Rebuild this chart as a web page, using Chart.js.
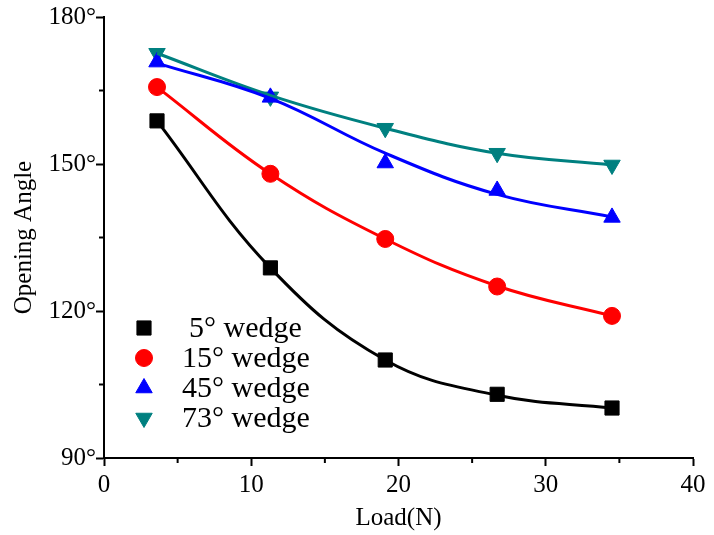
<!DOCTYPE html>
<html>
<head>
<meta charset="utf-8">
<script src="https://cdn.jsdelivr.net/npm/chart.js@4/dist/chart.umd.min.js"></script>
<style>
  html, body { margin: 0; padding: 0; background: #fff; }
  #wrap { width: 714px; height: 535px; }
</style>
</head>
<body>
<div id="wrap"><canvas id="c"></canvas></div>
<script>
// --- data ---
const loads = [3.6, 11.3, 19.1, 26.7, 34.5]

// measured points (markers)
const wedge5 = [158.8, 128.8, 110.0, 103.0, 100.2]
const wedge15 = [165.7, 148.0, 134.7, 125.0, 119.0]
const wedge45 = [170.8, 163.6, 150.2, 144.6, 139.1]
const wedge73 = [172.6, 163.7, 157.3, 152.2, 149.8]

// fitted curves at the same loads
const fit5 = [158.8, 128.8, 110.0, 102.8, 100.2]
const fit15 = [165.7, 148.0, 134.7, 125.1, 119.0]
const fit45 = [170.6, 163.4, 152.2, 143.8, 139.2]
const fit73 = [172.6, 164.0, 157.3, 152.2, 149.8]

const seriesLabels = ['5° wedge', '15° wedge', '45° wedge', '73° wedge']
const xTicks = [0, 10, 20, 30, 40]
const yTicks = [90, 120, 150, 180]
const xMinor = [5, 15, 25, 35]
const yMinor = [105, 135, 165]

const FONT = "'Liberation Serif', 'Times New Roman', serif"

function pts(ys) {
  return loads.map((x, i) => ({ x, y: ys[i] }))
}

function curve(ys, color) {
  return {
    label: '',
    isFit: true,
    data: pts(ys),
    borderColor: color,
    borderWidth: 3,
    pointRadius: 0,
    tension: 0.4,
    fill: false
  }
}

function markers(label, ys, color, style, radius, rotation) {
  return {
    label,
    data: pts(ys),
    showLine: false,
    borderColor: color,
    backgroundColor: color,
    pointStyle: style,
    pointRadius: radius,
    pointRotation: rotation,
    pointBorderWidth: 1
  }
}

// minor ticks + in-plot legend
const extras = {
  id: 'extras',
  afterDraw(chart) {
    const { ctx, chartArea, scales } = chart
    ctx.save()
    ctx.strokeStyle = '#000'
    ctx.lineWidth = 2
    xMinor.forEach((v) => {
      const px = scales.x.getPixelForValue(v)
      ctx.beginPath()
      ctx.moveTo(px, chartArea.bottom)
      ctx.lineTo(px, chartArea.bottom + 5)
      ctx.stroke()
    })
    yMinor.forEach((v) => {
      const py = scales.y.getPixelForValue(v)
      ctx.beginPath()
      ctx.moveTo(chartArea.left, py)
      ctx.lineTo(chartArea.left - 5, py)
      ctx.stroke()
    })

    // legend
    const mx = chartArea.left + 40
    const tx = chartArea.left + 78
    const y0 = chartArea.top + 311
    ctx.font = '30px ' + FONT
    ctx.textBaseline = 'middle'
    chart.data.datasets.filter((d) => !d.isFit).forEach((ds, i) => {
      const y = y0 + i * 30
      const opts = {
        pointStyle: ds.pointStyle,
        radius: ds.pointRadius,
        rotation: ds.pointRotation,
        borderWidth: 1
      }
      ctx.fillStyle = ds.backgroundColor
      ctx.strokeStyle = ds.borderColor
      ctx.lineWidth = 1
      Chart.helpers.drawPoint(ctx, opts, mx, y)
      ctx.fillStyle = '#000'
      ctx.fillText(ds.label, tx + (i === 0 ? 7 : 0), y + 1)
    })
    ctx.restore()
  }
}

new Chart(document.getElementById('c'), {
  type: 'line',
  data: {
    datasets: [
      curve(fit5, '#000000'),
      curve(fit15, '#ff0000'),
      curve(fit45, '#0000ff'),
      curve(fit73, '#008080'),
      markers(seriesLabels[0], wedge5, '#000000', 'rect', 10, 0),
      markers(seriesLabels[1], wedge15, '#ff0000', 'circle', 8.5, 0),
      markers(seriesLabels[2], wedge45, '#0000ff', 'triangle', 9.5, 0),
      markers(seriesLabels[3], wedge73, '#008080', 'triangle', 9.5, 180)
    ]
  },
  options: {
    responsive: true,
    maintainAspectRatio: false,
    animation: false,
    layout: { padding: { top: 17, right: 21, bottom: 0, left: 0 } },
    plugins: {
      legend: { display: false },
      tooltip: { enabled: false }
    },
    scales: {
      x: {
        type: 'linear',
        min: 0,
        max: 40,
        afterBuildTicks: (s) => { s.ticks = xTicks.map((v) => ({ value: v })) },
        afterFit: (s) => { s.height = 77 },
        border: { display: true, color: '#000', width: 2 },
        grid: { display: true, drawOnChartArea: false, tickLength: 8, tickWidth: 2, tickColor: '#000' },
        ticks: { color: '#000', font: { family: FONT, size: 25 }, padding: 4, maxRotation: 0 },
        title: {
          display: true,
          text: 'Load(N)',
          color: '#000',
          font: { family: FONT, size: 25 },
          padding: { top: 0, bottom: 2 }
        }
      },
      y: {
        type: 'linear',
        min: 90,
        max: 180,
        afterBuildTicks: (s) => { s.ticks = yTicks.map((v) => ({ value: v })) },
        afterFit: (s) => { s.width = 104 },
        border: { display: true, color: '#000', width: 2 },
        grid: { display: true, drawOnChartArea: false, tickLength: 8, tickWidth: 2, tickColor: '#000' },
        ticks: {
          color: '#000',
          font: { family: FONT, size: 25 },
          padding: 0,
          callback: (v) => v + '°'
        },
        title: {
          display: true,
          text: 'Opening Angle',
          color: '#000',
          font: { family: FONT, size: 25 },
          padding: { top: 9, bottom: 0 }
        }
      }
    }
  },
  plugins: [extras]
})
</script>
</body>
</html>
